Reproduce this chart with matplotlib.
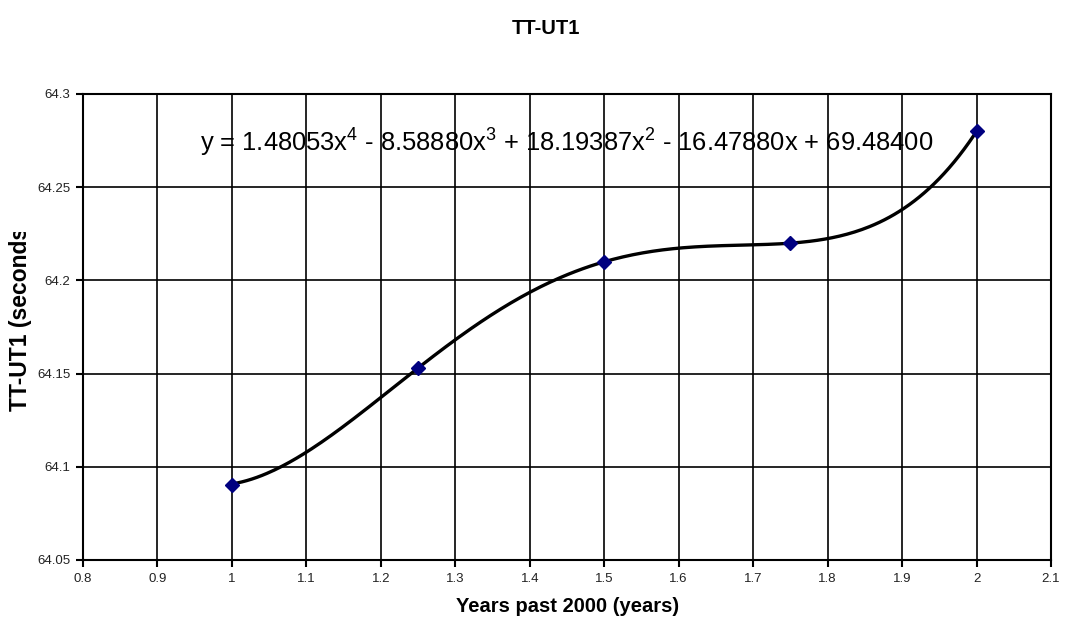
import numpy as np
import matplotlib
matplotlib.use("Agg")
import matplotlib.pyplot as plt
from matplotlib.transforms import Bbox

plt.rcParams["font.family"] = ["Liberation Sans", "DejaVu Sans"]
plt.rcParams["mathtext.fontset"] = "custom"
plt.rcParams["mathtext.rm"] = "Liberation Sans"
plt.rcParams["mathtext.default"] = "regular"

# data points
years = [1.0, 1.25, 1.5, 1.75, 2.0]
tt_ut1 = [64.09, 64.153, 64.21, 64.22, 64.28]

# trendline coefficients as printed on the chart (highest power first)
coeffs = [1.48053, -8.58880, 18.19387, -16.47880, 69.48400]

x_ticks = [0.8, 0.9, 1.0, 1.1, 1.2, 1.3, 1.4, 1.5, 1.6, 1.7, 1.8, 1.9, 2.0, 2.1]
y_ticks = [64.05, 64.1, 64.15, 64.2, 64.25, 64.3]

W, H = 1068, 626
fig = plt.figure(figsize=(W / 100, H / 100), dpi=100)
ax = fig.add_axes([83 / W, 1 - 560 / H, (1051 - 83) / W, (560 - 94) / H])

xs = np.linspace(years[0], years[-1], 300)
ax.plot(xs, np.polyval(coeffs, xs), color="black", lw=2.4, zorder=3)
ax.plot(years, tt_ut1, linestyle="none", marker="D", markersize=7,
        color="#000080", markeredgecolor="#000080", zorder=4)

ax.set_xlim(0.8, 2.1)
ax.set_ylim(64.05, 64.3)
ax.set_xticks(x_ticks)
ax.set_yticks(y_ticks)
ax.set_xticklabels([f"{v:g}" for v in x_ticks])
ax.set_yticklabels([f"{v:g}" for v in y_ticks])
ax.tick_params(direction="out", length=5, width=1.5, color="black",
               labelsize=9.5, pad=4, labelcolor="#222222")
ax.grid(True, color="black", lw=1.2)
ax.set_axisbelow(True)
for s in ax.spines.values():
    s.set_linewidth(1.5)

fig.text(568 / W, 1 - 607 / H, "Years past 2000 (years)", ha="center",
         va="center", fontsize=14.5, fontweight="bold")

fig.text(546 / W, 1 - 28 / H, "TT-UT1", ha="center", va="center",
         fontsize=14.5, fontweight="bold")

# y label is cut off at the top in the original, so clip it the same way
ylab = fig.text(21 / W, 1 - 315 / H, "TT-UT1 (seconds)", rotation=90,
                ha="center", va="center", fontsize=16.5, fontweight="bold")
ylab.set_clip_box(Bbox.from_extents(0, 0, 60, H - 232))
ylab.set_clip_on(True)

eq = ("y = 1.48053x$^{4}$ - 8.58880x$^{3}$ + 18.19387x$^{2}$ "
      "- 16.47880x + 69.48400")
ax.text(0.957, 64.2737, eq, ha="left", va="center", fontsize=18.4, zorder=5)

fig.savefig("out.png", dpi=100, facecolor="white")
